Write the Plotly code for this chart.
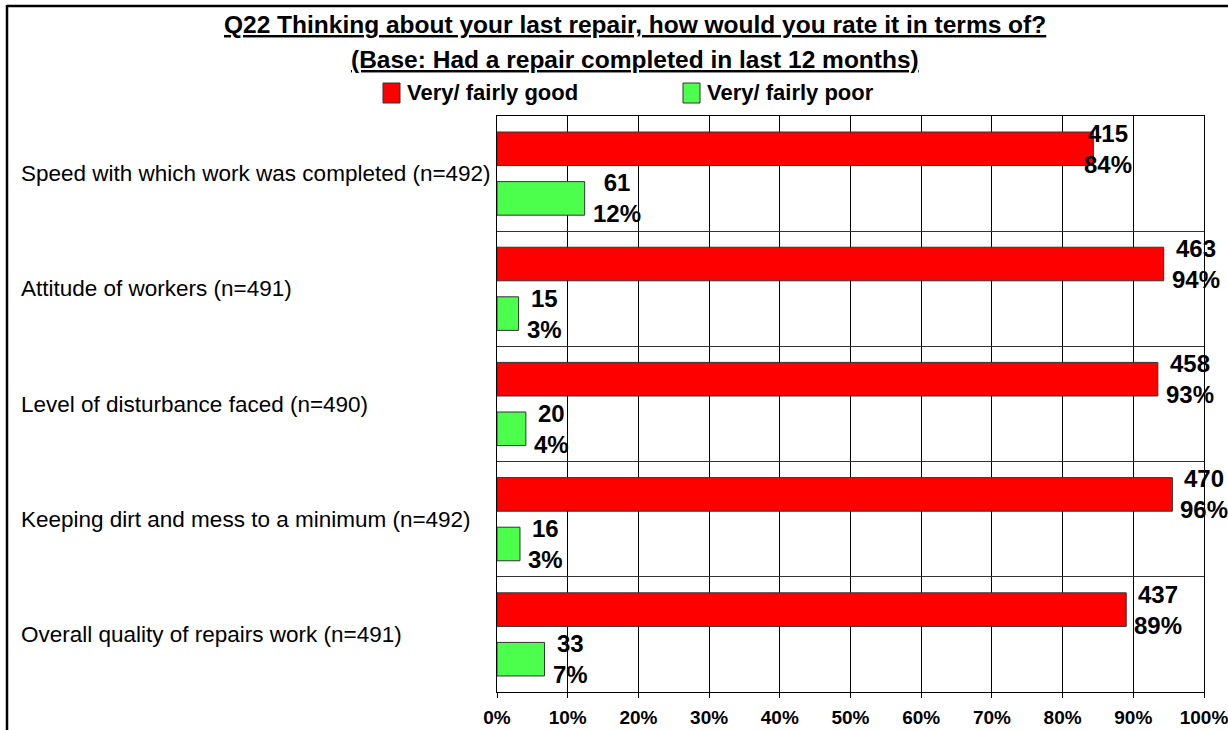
import plotly.graph_objects as go

# ---- data ---------------------------------------------------------------
items = [
    "Speed with which work was completed",
    "Attitude of workers",
    "Level of disturbance faced",
    "Keeping dirt and mess to a minimum",
    "Overall quality of repairs work",
]
bases = [492, 491, 490, 492, 491]
good_counts = [415, 463, 458, 470, 437]
poor_counts = [61, 15, 20, 16, 33]
series_names = ["Very/ fairly good", "Very/ fairly poor"]
series_colors = ["#FF0000", "#4DFF4D"]
x_ticks = [0, 10, 20, 30, 40, 50, 60, 70, 80, 90, 100]
title_lines = [
    "Q22 Thinking about your last repair, how would you rate it in terms of?",
    "(Base: Had a repair completed in last 12 months)",
]

# ---- page geometry ------------------------------------------------------
W, H = 1228, 730
ML, MR, MT, MB = 497, 24, 116, 38
PW, PH = W - ML - MR, H - MT - MB
FONT = "Arial, 'Liberation Sans', sans-serif"
BARGAP, GROUPGAP = 0.139, 0.323


def px_x(x):
    return (x - ML) / PW


def px_y(y):
    return (H - MB - y) / PH


cat_labels = [f"{name} (n={n})" for name, n in zip(items, bases)]
series_counts = [good_counts, poor_counts]
series_pct = [[c / n * 100 for c, n in zip(cnts, bases)] for cnts in series_counts]

fig = go.Figure()
for s in range(2):
    fig.add_trace(go.Bar(
        y=cat_labels,
        x=series_pct[s],
        orientation="h",
        name=series_names[s],
        marker=dict(color=series_colors[s], line=dict(color="#333333", width=1)),
        showlegend=False,
        hoverinfo="skip",
    ))

annotations = []

# category names, left-aligned near the page edge
for i, lab in enumerate(cat_labels):
    annotations.append(dict(
        x=px_x(19), y=i, xref="paper", yref="y",
        text=lab, showarrow=False, xanchor="left", yanchor="middle",
        font=dict(family=FONT, size=22.5, color="black"),
    ))

# value labels: count over rounded percentage, just past the end of each bar
slot = (1 - BARGAP) / 2
label_nudge = {(0, 0): -11}
for s in range(2):
    for i in range(len(items)):
        pct = series_pct[s][i]
        annotations.append(dict(
            x=pct, y=i + (s - 0.5) * slot, xref="x", yref="y",
            text=f"<b>{series_counts[s][i]}<br>{round(pct)}%</b>",
            showarrow=False, xanchor="left", yanchor="middle", align="center",
            xshift=label_nudge.get((s, i), 6),
            font=dict(family=FONT, size=24, color="black"),
        ))

# title
title_y = [25, 60]
for line, yy in zip(title_lines, title_y):
    annotations.append(dict(
        x=px_x(635), y=px_y(yy), xref="paper", yref="paper",
        text=f"<u><b>{line}</b></u>", showarrow=False,
        xanchor="center", yanchor="middle",
        font=dict(family=FONT, size=24.5, color="black"),
    ))

# legend: swatch + label for each series
shapes = []
legend_x = [383, 683]
legend_y = 93
for s in range(2):
    x0 = legend_x[s]
    shapes.append(dict(
        type="rect", xref="paper", yref="paper",
        x0=px_x(x0), x1=px_x(x0 + 17), y0=px_y(legend_y + 10), y1=px_y(legend_y - 10),
        fillcolor=series_colors[s], line=dict(color="#333333", width=1),
    ))
    annotations.append(dict(
        x=px_x(x0 + 22), y=px_y(legend_y), xref="paper", yref="paper",
        text=f"<b>{series_names[s]}</b>", showarrow=False,
        xanchor="left", yanchor="middle",
        font=dict(family=FONT, size=22, color="black"),
    ))

# page frame along the top and left edges
shapes.append(dict(type="line", xref="paper", yref="paper",
                   x0=px_x(7), x1=px_x(W + 5), y0=px_y(6), y1=px_y(6),
                   line=dict(color="black", width=2.5)))
shapes.append(dict(type="line", xref="paper", yref="paper",
                   x0=px_x(7), x1=px_x(7), y0=px_y(5), y1=px_y(H + 5),
                   line=dict(color="black", width=2.5)))

fig.update_layout(
    width=W, height=H,
    margin=dict(l=ML, r=MR, t=MT, b=MB, pad=0, autoexpand=False),
    paper_bgcolor="white", plot_bgcolor="white",
    barmode="group", bargap=BARGAP, bargroupgap=GROUPGAP,
    font=dict(family=FONT, color="black"),
    annotations=annotations, shapes=shapes,
    showlegend=False,
)
fig.update_xaxes(
    range=[0, 100], tickvals=x_ticks, ticktext=[f"<b>{v}%</b>" for v in x_ticks],
    showgrid=True, gridcolor="black", gridwidth=1,
    showline=True, linecolor="black", linewidth=1, mirror=True,
    ticks="outside", ticklen=5, tickcolor="black", ticklabelstandoff=3,
    ticklabeloverflow="allow", automargin=False,
    tickfont=dict(family=FONT, size=19, color="black"),
    zeroline=False, fixedrange=True,
)
fig.update_yaxes(
    type="category", categoryorder="array", categoryarray=cat_labels,
    autorange="reversed", tickson="boundaries", ticks="",
    showticklabels=False, automargin=False,
    showgrid=True, gridcolor="#333333", gridwidth=1,
    showline=True, linecolor="black", linewidth=1, mirror=True,
    fixedrange=True,
)

fig.write_html("out.html")
